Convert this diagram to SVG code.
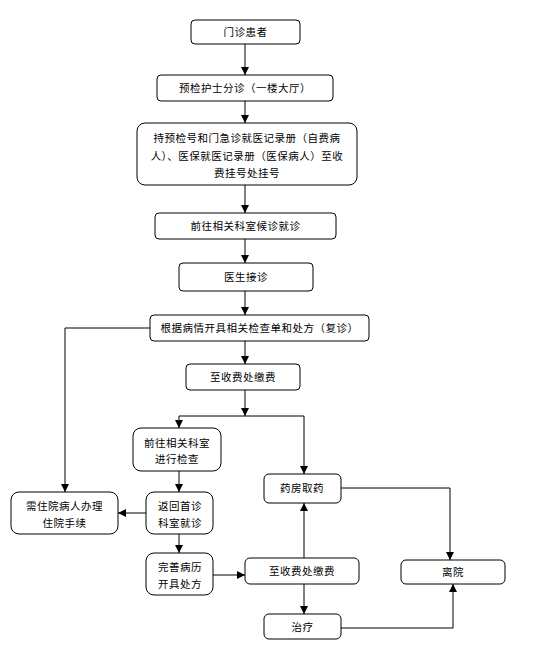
<svg xmlns="http://www.w3.org/2000/svg" width="533" height="653" viewBox="0 0 533 653">
<defs>
<marker id="arr" viewBox="0 0 10 10" refX="10" refY="5" markerWidth="8" markerHeight="8" markerUnits="userSpaceOnUse" orient="auto">
<path d="M0,0 L10,5 L0,10 z" fill="#000"/>
</marker>
<style>
.n rect{fill:#fff;stroke:#000;stroke-width:1}
.n text{font-family:"Noto Sans CJK SC","Liberation Sans",sans-serif;font-size:10.5px;fill:#000;text-anchor:middle;letter-spacing:0.5px}
.c path{fill:none;stroke:#000;stroke-width:1;marker-end:url(#arr)}
.c path.nm{marker-end:none}
</style>
</defs>
<rect width="533" height="653" fill="#fff"/>
<g class="c">
<path d="M245,44 V75"/>
<path d="M245,101 V123"/>
<path d="M245,185 V213"/>
<path d="M245,239 V263"/>
<path d="M245,291 V315"/>
<path d="M245,341 V364"/>
<path d="M150,328 H65 V492"/>
<path d="M245,390 V416"/>
<path class="nm" d="M179,416 H304"/>
<path d="M179,416 V428"/>
<path d="M304,416 V474"/>
<path d="M179,471 V492"/>
<path d="M146,513 H118"/>
<path d="M179,534 V553"/>
<path d="M213,575 H245"/>
<path d="M304,558 V503"/>
<path d="M304,584 V614"/>
<path d="M341,488 H450 V560"/>
<path d="M341,628 H453 V584"/>
</g>
<g id="n1" class="n"><rect x="191" y="20" width="109" height="24" rx="4"/><text x="245.5" y="36">门诊患者</text></g>
<g id="n2" class="n"><rect x="157" y="75" width="176" height="26" rx="4"/><text x="245" y="92">预检护士分诊（一楼大厅）</text></g>
<g id="n3" class="n"><rect x="137" y="123" width="220" height="62" rx="8"/>
<text x="247" y="142">持预检号和门急诊就医记录册（自费病</text>
<text x="247" y="160">人）、医保就医记录册（医保病人）至收</text>
<text x="247" y="177">费挂号处挂号</text></g>
<g id="n4" class="n"><rect x="155" y="213" width="181" height="26" rx="4"/><text x="245.5" y="230">前往相关科室候诊就诊</text></g>
<g id="n5" class="n"><rect x="179" y="263" width="134" height="28" rx="4"/><text x="246" y="281">医生接诊</text></g>
<g id="n6" class="n"><rect x="150" y="315" width="219" height="26" rx="4"/><text x="259.5" y="332">根据病情开具相关检查单和处方（复诊）</text></g>
<g id="n7" class="n"><rect x="186" y="364" width="114" height="26" rx="4"/><text x="243" y="381">至收费处缴费</text></g>
<g id="n8" class="n"><rect x="133" y="428" width="88" height="43" rx="8"/><text x="177" y="447">前往相关科室</text><text x="177" y="463">进行检查</text></g>
<g id="n9" class="n"><rect x="11" y="492" width="107" height="42" rx="8"/><text x="64.5" y="510">需住院病人办理</text><text x="64.5" y="527">住院手续</text></g>
<g id="n10" class="n"><rect x="146" y="492" width="67" height="42" rx="8"/><text x="180" y="510">返回首诊</text><text x="180" y="527">科室就诊</text></g>
<g id="n11" class="n"><rect x="146" y="553" width="67" height="42" rx="8"/><text x="180" y="571">完善病历</text><text x="180" y="588">开具处方</text></g>
<g id="n12" class="n"><rect x="264" y="474" width="77" height="29" rx="5"/><text x="302" y="492">药房取药</text></g>
<g id="n13" class="n"><rect x="245" y="558" width="114" height="26" rx="5"/><text x="302" y="575">至收费处缴费</text></g>
<g id="n14" class="n"><rect x="401" y="560" width="104" height="24" rx="5"/><text x="453" y="576">离院</text></g>
<g id="n15" class="n"><rect x="264" y="614" width="77" height="25" rx="5"/><text x="302.5" y="631">治疗</text></g>
</svg>
